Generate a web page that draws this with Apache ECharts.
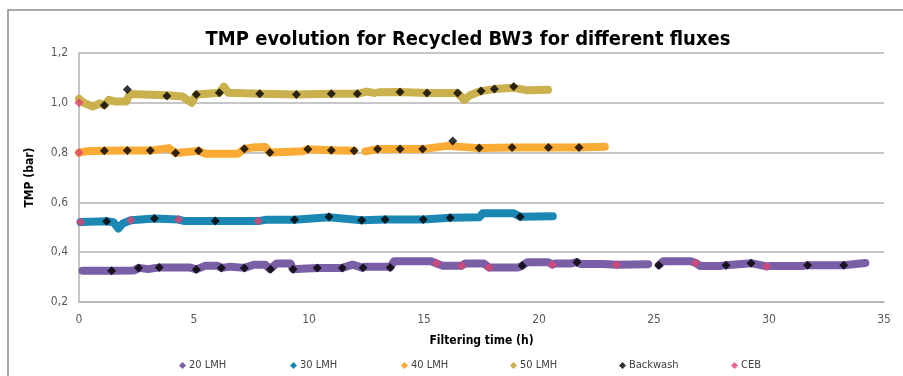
<!DOCTYPE html>
<html>
<head>
<meta charset="utf-8">
<script src="https://cdn.jsdelivr.net/npm/echarts@6/dist/echarts.min.js"></script>
<style>html,body{margin:0;padding:0;background:#fff}#c{width:903px;height:376px}</style>
</head>
<body>
<div id="c"></div>
<script>
// ---- Data (hours, TMP bar); '-' marks a gap in the record ----
var lmh20 = [[0.15,0.326],[1.4,0.326],[2.4,0.327],[2.6,0.337],[3.0,0.332],[3.5,0.339],[4.8,0.339],[5.1,0.331],[5.5,0.346],[6.0,0.346],[6.2,0.337],[6.6,0.342],[7.2,0.337],[7.6,0.35],[8.1,0.35],[8.3,0.332],[8.6,0.355],[9.2,0.355],[9.3,0.332],[9.9,0.335],[10.4,0.337],[11.45,0.337],[11.9,0.35],[12.3,0.338],[12.45,0.342],[13.4,0.342],[13.53,0.339],[13.7,0.364],[15.3,0.364],[15.55,0.355],[15.8,0.346],[16.4,0.346],[16.64,0.346],[16.8,0.355],[17.6,0.355],[17.82,0.339],[19.1,0.339],[19.27,0.346],[19.5,0.36],[20.4,0.36],[20.58,0.35],[20.7,0.355],[21.4,0.355],[21.65,0.36],[21.8,0.353],[22.8,0.353],[23.37,0.35],[24.75,0.352],[24.95,'-'],[25.21,0.348],[25.4,0.364],[26.6,0.364],[26.81,0.357],[27.0,0.345],[27.9,0.345],[28.13,0.348],[29.22,0.356],[29.9,0.343],[30.1,0.345],[31.5,0.345],[31.68,0.348],[33.25,0.348],[34.19,0.357]];
var lmh30 = [[0.07,0.521],[1.2,0.524],[1.5,0.52],[1.71,0.495],[1.9,0.515],[2.25,0.528],[3.28,0.535],[4.33,0.531],[4.6,0.525],[5.93,0.525],[7.79,0.525],[8.1,0.53],[9.37,0.53],[10.87,0.54],[12.29,0.528],[13.31,0.531],[14.97,0.531],[16.14,0.538],[17.4,0.54],[17.55,0.556],[18.9,0.556],[19.18,0.542],[20.6,0.544]];
var lmh40 = [[0,0.8],[0.3,0.805],[1.1,0.807],[2.1,0.808],[3.1,0.808],[3.9,0.818],[4.2,0.798],[5.2,0.807],[5.5,0.795],[6.9,0.795],[7.19,0.815],[7.5,0.82],[8.1,0.822],[8.3,0.8],[9.7,0.805],[9.95,0.813],[10.97,0.809],[11.96,0.807],[12.2,'-'],[12.45,0.805],[12.98,0.814],[13.96,0.814],[14.94,0.814],[16.0,0.827],[17.4,0.818],[18.83,0.82],[20.41,0.82],[21.74,0.82],[22.86,0.823]];
var lmh50 = [[0,1.016],[0.2,1.0],[0.6,0.985],[0.9,0.998],[1.1,0.99],[1.3,1.012],[1.6,1.005],[2.05,1.005],[2.2,1.035],[3.8,1.03],[4.5,1.025],[4.9,1.0],[5.1,1.033],[6.1,1.04],[6.3,1.065],[6.5,1.04],[7.86,1.036],[9.45,1.033],[10.97,1.036],[12.1,1.036],[12.5,1.045],[12.83,1.04],[12.95,'-'],[13.05,1.042],[13.96,1.043],[15.13,1.039],[16.46,1.039],[16.75,1.012],[17.0,1.03],[17.48,1.047],[18.06,1.055],[18.9,1.06],[19.5,1.05],[20.39,1.052]];
var backwash = [
  [1.42,0.326],[2.59,0.337],[3.49,0.339],[5.1,0.331],[6.19,0.337],[7.19,0.337],[8.33,0.332],[9.31,0.332],[10.36,0.337],[11.45,0.337],[12.35,0.338],[13.53,0.339],[19.27,0.346],[21.65,0.36],[25.21,0.348],[28.13,0.348],[29.22,0.356],[31.68,0.348],[33.25,0.348],
  [1.2,0.524],[3.28,0.535],[5.93,0.525],[9.37,0.53],[10.87,0.542],[12.29,0.528],[13.31,0.531],[14.97,0.531],[16.14,0.538],[19.18,0.542],
  [1.1,0.807],[2.1,0.808],[3.1,0.808],[4.2,0.798],[5.2,0.807],[7.19,0.815],[8.3,0.8],[9.95,0.813],[10.97,0.809],[11.96,0.807],[12.98,0.814],[13.96,0.814],[14.94,0.814],[16.25,0.847],[17.4,0.818],[18.83,0.82],[20.41,0.82],[21.74,0.82],
  [1.1,0.99],[2.1,1.053],[3.82,1.027],[5.1,1.033],[6.1,1.04],[7.86,1.036],[9.45,1.033],[10.97,1.036],[12.1,1.036],[13.96,1.043],[15.13,1.039],[16.46,1.039],[17.48,1.047],[18.06,1.055],[18.9,1.065]
];
var ceb = [[15.55,0.355],[16.64,0.346],[17.82,0.339],[20.58,0.35],[23.37,0.35],[26.81,0.357],[29.9,0.343],
  [0.07,0.521],[2.25,0.528],[4.33,0.531],[7.79,0.525],
  [0,0.8],[0,1.0]];
var seriesNames = ['20 LMH','30 LMH','40 LMH','50 LMH','Backwash','CEB'];
var colors = ['#7a5fa6','#1b87b3','#f9ab35','#cbb04e','#000000','#e2436f'];

var FONT = 'DejaVu Sans Condensed, Liberation Sans, sans-serif';
var chart = echarts.init(document.getElementById('c'));
function lineSeries(name, data, color){
  return {name:name, type:'line', data:data, color:color, symbol:'diamond', symbolSize:8, showSymbol:false,
    connectNulls:false, lineStyle:{width:8, color:color, cap:'round', join:'round'}, itemStyle:{color:color}, z:2, animation:false};
}
var legendLefts = [174, 285, 396, 505, 614, 726];
var legends = seriesNames.map(function(n, i){
  return {data:[n], left:legendLefts[i], top:355, itemWidth:7, itemHeight:7, itemGap:0, icon:'diamond',
    textStyle:{fontFamily:FONT, fontSize:11, color:'#404040', padding:[0,0,0,-2]}};
});
chart.setOption({
  animation:false,
  color: colors,
  graphic:[{type:'rect', shape:{x:8, y:10, width:1200, height:800}, style:{fill:'none', stroke:'#8a8a8a', lineWidth:1.5}, silent:true, z:-10}],
  title:{text:'TMP evolution for Recycled BW3 for different fluxes', left:463, textAlign:'center', top:25,
    textStyle:{fontFamily:FONT, fontWeight:'bold', fontSize:20, color:'#000'}},
  grid:{left:79, right:19, top:53, bottom:74},
  legend:legends,
  xAxis:{type:'value', min:0, max:35, interval:5, name:'Filtering time (h)', nameLocation:'middle', nameGap:33,
    nameTextStyle:{fontFamily:FONT, fontWeight:'bold', fontSize:12, color:'#000'},
    axisLine:{lineStyle:{color:'#b3b3b3', width:1.5}}, axisTick:{show:false}, splitLine:{show:false},
    axisLabel:{fontFamily:FONT, fontSize:12, color:'#595959', margin:12}},
  yAxis:{type:'value', min:0.2, max:1.2, interval:0.2, name:'TMP (bar)', nameLocation:'middle', nameGap:43,
    nameTextStyle:{fontFamily:FONT, fontWeight:'bold', fontSize:12, color:'#000'},
    axisLine:{show:true, lineStyle:{color:'#b3b3b3', width:1.5}}, axisTick:{show:false},
    splitLine:{lineStyle:{color:'#b3b3b3', width:1.5}},
    axisLabel:{fontFamily:FONT, fontSize:12, color:'#595959', margin:11,
      formatter:function(v){return v.toFixed(1).replace('.',',');}}},
  series:[
    lineSeries('20 LMH', lmh20, colors[0]),
    lineSeries('30 LMH', lmh30, colors[1]),
    lineSeries('40 LMH', lmh40, colors[2]),
    lineSeries('50 LMH', lmh50, colors[3]),
    {name:'Backwash', type:'scatter', data:backwash, symbol:'diamond', symbolSize:9, itemStyle:{color:'#000'}, z:5},
    {name:'CEB', type:'scatter', data:ceb, symbol:'diamond', symbolSize:9, itemStyle:{color:colors[5]}, z:6}
  ]
});
</script>
</body>
</html>
